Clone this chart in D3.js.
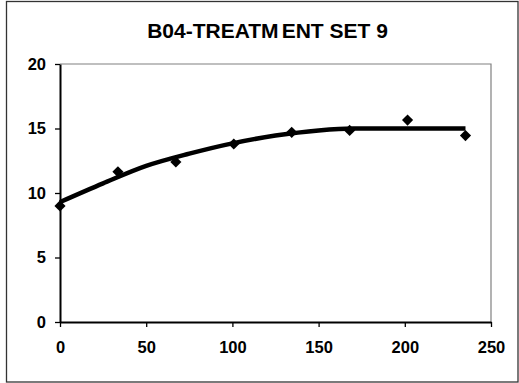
<!DOCTYPE html>
<html>
<head>
<meta charset="utf-8">
<script src="https://cdn.jsdelivr.net/npm/d3@7"></script>
<style>
  body { margin: 0; background: #fff; }
  svg { display: block; font-family: "Liberation Sans", Arial, sans-serif; }
</style>
</head>
<body>
<div id="chart"></div>
<script>
// measured points
const xVals = [0, 33.6, 67.2, 100.8, 134.4, 168, 201.6, 235.2];
const yVals = [9.0, 11.65, 12.4, 13.8, 14.7, 14.85, 15.65, 14.45];

// trend line
const trendX = [0, 25, 50, 75, 100, 125, 150, 170, 235.2];
const trendY = [9.3, 10.75, 12.1, 13.05, 13.85, 14.45, 14.85, 15.0, 15.0];

const xTicks = [0, 50, 100, 150, 200, 250];
const yTicks = [0, 5, 10, 15, 20];

const width = 519, height = 383;
const plot = {left: 60, right: 491, top: 64, bottom: 322};

const svg = d3.select("#chart").append("svg")
    .attr("width", width)
    .attr("height", height);

// outer frame
svg.append("rect")
    .attr("x", 6.5).attr("y", 1.5)
    .attr("width", 511.5).attr("height", 380.5)
    .attr("fill", "#fff")
    .attr("stroke", "#333")
    .attr("stroke-width", 1.3);

// title (the gap in TREATM ENT is in the original rendering)
const title = svg.append("text")
    .attr("x", 267.5).attr("y", 37.7)
    .attr("text-anchor", "middle")
    .attr("font-size", 21)
    .attr("font-weight", "bold")
    .attr("fill", "#000");
title.append("tspan").text("B04-TREATM");
title.append("tspan").attr("dx", 3).text("ENT SET 9");

const x = d3.scaleLinear().domain([0, 250]).range([plot.left, plot.right]);
const y = d3.scaleLinear().domain([0, 20]).range([plot.bottom, plot.top]);

// top/right plot border
svg.append("path")
    .attr("d", `M${plot.left},${plot.top}H${plot.right}V${plot.bottom}`)
    .attr("fill", "none")
    .attr("stroke", "#808080")
    .attr("stroke-width", 1.2);

const xAxis = svg.append("g")
    .attr("transform", `translate(0,${plot.bottom})`)
    .call(d3.axisBottom(x).tickValues(xTicks).tickSize(5).tickPadding(14).tickSizeOuter(0));

const yAxis = svg.append("g")
    .attr("transform", `translate(${plot.left},0)`)
    .call(d3.axisLeft(y).tickValues(yTicks).tickSize(5).tickPadding(9).tickSizeOuter(0));

[xAxis, yAxis].forEach(g => {
    g.select(".domain").attr("stroke", "#000").attr("stroke-width", 2);
    g.selectAll(".tick line").attr("stroke", "#000").attr("stroke-width", 1.3);
    g.selectAll(".tick text")
        .attr("fill", "#000")
        .attr("font-size", 16.5)
        .attr("font-weight", "bold")
        .attr("font-family", "'Liberation Sans', Arial, sans-serif");
});

// trend line
const trend = trendX.map((d, i) => [d, trendY[i]]);
svg.append("path")
    .datum(trend)
    .attr("fill", "none")
    .attr("stroke", "#000")
    .attr("stroke-width", 4.5)
    .attr("stroke-linejoin", "round")
    .attr("d", d3.line().x(d => x(d[0])).y(d => y(d[1])).curve(d3.curveMonotoneX));

// diamonds
const pts = xVals.map((d, i) => ({x: d, y: yVals[i]}));
svg.append("g").selectAll("path")
    .data(pts)
    .enter()
    .append("path")
    .attr("d", d3.symbol().type(d3.symbolSquare).size(62))
    .attr("transform", d => `translate(${x(d.x)},${y(d.y)}) rotate(45)`)
    .attr("fill", "#000");
</script>
</body>
</html>
